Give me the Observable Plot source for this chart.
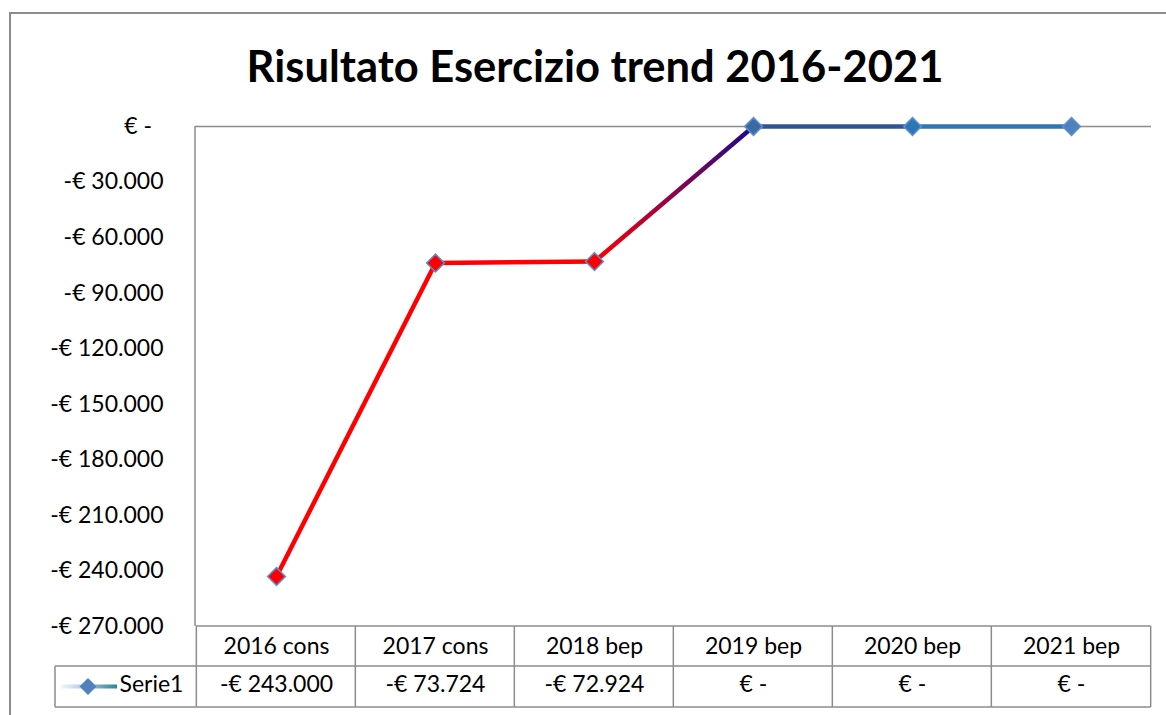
<!DOCTYPE html>
<html><head><meta charset="utf-8">
<script src="https://cdn.jsdelivr.net/npm/d3@7"></script>
<script src="https://cdn.jsdelivr.net/npm/@observablehq/plot@0.6"></script>
<style>
body{margin:0;background:#fff;}
#wrap{position:relative;width:1166px;height:715px;overflow:hidden;font-family:Lato,sans-serif;}
#border{position:absolute;left:9px;top:12px;width:1300px;height:900px;border:2px solid #8c8c8c;box-sizing:border-box;}
#title{position:absolute;left:0;width:1190px;top:37px;text-align:center;font-weight:700;font-size:43.5px;line-height:56px;color:#000;}
#chart svg{position:absolute;left:0;top:0;}
</style></head><body>
<div id="wrap"><div id="border"></div><div id="title">Risultato Esercizio trend 2016-2021</div><div id="chart"></div></div>
<script>
const categories = ["2016 cons","2017 cons","2018 bep","2019 bep","2020 bep","2021 bep"];
const values = [-243000,-73724,-72924,0,0,0];
const yTicks = [0,-30000,-60000,-90000,-120000,-150000,-180000,-210000,-240000,-270000];
const seriesName = "Serie1";
const segmentColors = ["#ff0000","#ff0000","url(#seg3grad)","#2f5597","#2e75b6"];
const markerFills = ["#ff0000","#ff0000","#ff0000","#3b6aa3","#2e75b6","#4f81bd"];

const num = d3.format(",");
const euro = v => v === 0 ? "€ -" : (v < 0 ? "-" : "") + "€ " + num(Math.abs(v)).replace(/,/g, ".");
const yFmt = v => v === 0 ? "€ -\u2002" : euro(v);

const points = categories.map((c, i) => ({cat: c, value: values[i], fill: markerFills[i]}));
const segments = d3.pairs(points).map(([a, b], i) => ({x1: a.cat, y1: a.value, x2: b.cat, y2: b.value, color: segmentColors[i]}));

const FS = 23;

function defs() {
  const d = d3.create("svg:defs");
  const g = d.append("linearGradient").attr("id", "seg3grad")
    .attr("x1", 0).attr("y1", 1).attr("x2", 1).attr("y2", 0);
  g.append("stop").attr("offset", "0%").attr("stop-color", "#ff0000");
  g.append("stop").attr("offset", "100%").attr("stop-color", "#1a0890");
  return d.node();
}

function tableGrid(index, scales, values, dims) {
  const {width, height, marginLeft, marginRight, marginTop, marginBottom} = dims;
  const step = (width - marginLeft - marginRight) / categories.length;
  const top = height - marginBottom;
  const row1 = top + 40, row2 = top + 81;
  const legendLeft = marginLeft - 140;
  const g = d3.create("svg:g");
  const grid = g.append("g").attr("stroke", "#8c8c8c").attr("stroke-width", 1.5).attr("fill", "none");
  const line = (x1, y1, x2, y2) => grid.append("line").attr("x1", x1).attr("y1", y1).attr("x2", x2).attr("y2", y2);
  const bounds = categories.map(c => scales.x(c) - step / 2).concat([scales.x(categories[categories.length - 1]) + step / 2]);
  line(marginLeft, marginTop, marginLeft, top);
  line(bounds[0], top, bounds[bounds.length - 1], top);
  line(legendLeft, row1, bounds[bounds.length - 1], row1);
  line(legendLeft, row2, bounds[bounds.length - 1], row2);
  for (const b of bounds) line(b, top, b, row2);
  line(legendLeft, row1, legendLeft, row2);
  // legend key
  const ky = (row1 + row2) / 2;
  const lg = g.append("linearGradient").attr("id", "legendgrad").attr("gradientUnits", "userSpaceOnUse")
    .attr("x1", legendLeft + 6).attr("y1", ky).attr("x2", legendLeft + 62).attr("y2", ky);
  lg.append("stop").attr("offset", "0%").attr("stop-color", "#f3f6fc");
  lg.append("stop").attr("offset", "45%").attr("stop-color", "#a9c2e4");
  lg.append("stop").attr("offset", "100%").attr("stop-color", "#2a8692");
  g.append("line").attr("x1", legendLeft + 6).attr("x2", legendLeft + 62).attr("y1", ky).attr("y2", ky)
    .attr("stroke", "url(#legendgrad)").attr("stroke-width", 4);
  g.append("rect").attr("x", legendLeft + 33 - 6).attr("y", ky - 6).attr("width", 12).attr("height", 12)
    .attr("transform", `rotate(45 ${legendLeft + 33} ${ky})`).attr("fill", "#4f81bd");
  return g.node();
}

const chart = Plot.plot({
  width: 1166, height: 715,
  marginLeft: 195, marginRight: 15, marginTop: 126, marginBottom: 89,
  style: {fontFamily: "Lato, sans-serif", fontSize: FS + "px", background: "transparent", color: "#000"},
  x: {type: "point", domain: categories, padding: 0.5},
  y: {domain: [-270000, 0]},
  color: {type: "identity"},
  marks: [
    defs,
    tableGrid,
    Plot.axisY({ticks: yTicks, tickSize: 0, tickPadding: 32, tickFormat: yFmt, fontSize: FS, fill: "#000"}),
    Plot.axisX({anchor: "bottom", tickSize: 0, tickPadding: 11, fontSize: FS, fill: "#000"}),
    Plot.ruleY([0], {stroke: "#8c8c8c", strokeWidth: 1.5}),
    Plot.link(segments, {x1: "x1", y1: "y1", x2: "x2", y2: "y2", stroke: "color", strokeWidth: 4.5}),
    Plot.dot(points, {x: "cat", y: "value", symbol: "diamond2", r: 8, fill: "fill", stroke: "#5b8fd0", strokeWidth: 1.5}),
    Plot.text(points, {x: "cat", frameAnchor: "bottom", dy: 65, text: d => euro(d.value), fontSize: FS, fill: "#000"}),
    Plot.text([seriesName], {frameAnchor: "bottom-left", dx: -76, dy: 65, textAnchor: "start", fontSize: FS, fill: "#000"})
  ]
});
document.getElementById("chart").appendChild(chart);
</script>
</body></html>
